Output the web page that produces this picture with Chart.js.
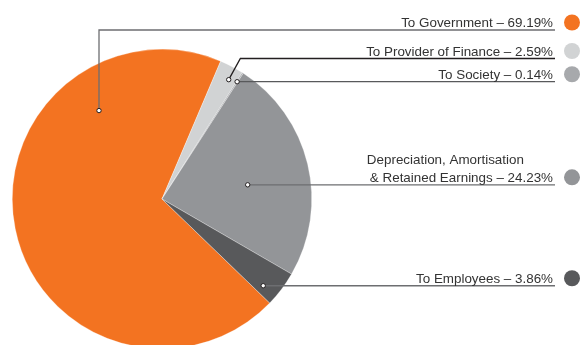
<!DOCTYPE html>
<html>
<head>
<meta charset="utf-8">
<script src="https://cdn.jsdelivr.net/npm/chart.js@4/dist/chart.umd.min.js"></script>
<style>
  html, body { margin:0; padding:0; background:#fff; overflow:hidden; width:581px; height:345px; }
  #wrap { position:relative; width:581px; height:400px; }
</style>
</head>
<body>
<div id="wrap"><canvas id="c" width="581" height="400" style="width:581px;height:400px"></canvas></div>
<script>
// ---- data ----
const categories = ['To Government', 'To Provider of Finance', 'To Society', 'Depreciation, Amortisation\n& Retained Earnings', 'To Employees'];
const shares = [69.19, 2.59, 0.14, 24.23, 3.86];
const sliceColors = ['#F37321', '#D1D3D4', '#A7A9AC', '#939598', '#58595B'];

// ---- leader layout (positions, not data) ----
const leaders = [
  { t: 0.765, f: 0.725, lineY: 30,   elbow: 'vertical', color: '#6D6E71' },
  { t: 0.66,  f: 0.913, lineY: 58.5, elbow: 'diag',     color: '#231F20' },
  { t: 0.5,   f: 0.93,  lineY: null, elbow: 'none',     color: '#58595B' },
  { t: 0.547, f: 0.58,  lineY: null, elbow: 'none',     color: '#6D6E71' },
  { t: 0.755, f: 0.89,  lineY: null, elbow: 'none',     color: '#6D6E71' }
];
const lineEndX = 555, textRightX = 553, markerX = 572;
const FONT = '13.4px "Liberation Sans", Arial, sans-serif';

const leaderPlugin = {
  id: 'leaders',
  afterDatasetsDraw(chart) {
    const ctx = chart.ctx;
    const arcs = chart.getDatasetMeta(0).data;
    ctx.save();
    arcs.forEach((arc, i) => {
      const L = leaders[i];
      const p = arc.getProps(['x','y','startAngle','endAngle','outerRadius'], true);
      const a = p.startAngle + L.t * (p.endAngle - p.startAngle);
      const r = L.f * p.outerRadius;
      const dx = p.x + Math.cos(a) * r, dy = p.y + Math.sin(a) * r;
      const lineY = L.lineY == null ? dy : L.lineY;
      ctx.beginPath();
      ctx.strokeStyle = L.color;
      ctx.lineWidth = 1.3;
      ctx.moveTo(dx, dy);
      if (L.elbow === 'vertical') ctx.lineTo(dx, lineY);
      else if (L.elbow === 'diag') ctx.lineTo(dx + (dy - lineY) * 0.55, lineY);
      ctx.lineTo(lineEndX, lineY);
      ctx.stroke();
      // dot
      ctx.beginPath();
      ctx.arc(dx, dy, 2.2, 0, Math.PI * 2);
      ctx.fillStyle = '#fff';
      ctx.fill();
      ctx.lineWidth = 1;
      ctx.strokeStyle = '#231F20';
      ctx.stroke();
      // text
      const lines = categories[i].split('\n');
      lines[lines.length - 1] += ' \u2013 ' + shares[i].toFixed(2) + '%';
      ctx.font = FONT;
      ctx.fillStyle = '#333333';
      ctx.textBaseline = 'alphabetic';
      const baseY = lineY - 3;
      const lastW = ctx.measureText(lines[lines.length - 1]).width;
      const startX = textRightX - lastW;
      for (let k = 0; k < lines.length; k++) {
        const y = baseY - (lines.length - 1 - k) * 17.5;
        if (k === lines.length - 1) { ctx.textAlign = 'right'; ctx.fillText(lines[k], textRightX, y); }
        else { ctx.textAlign = 'left'; ctx.fillText(lines[k], startX - 3, y); }
      }
      // marker
      ctx.beginPath();
      ctx.arc(markerX, baseY - 4.5, 8, 0, Math.PI * 2);
      ctx.fillStyle = sliceColors[i];
      ctx.fill();
    });
    ctx.restore();
  }
};

new Chart(document.getElementById('c'), {
  type: 'pie',
  data: {
    labels: categories,
    datasets: [{ data: shares, backgroundColor: sliceColors, borderColor: 'rgba(255,255,255,0.6)', borderWidth: 0.5 }]
  },
  options: {
    responsive: false,
    animation: false,
    rotation: 134,
    layout: { padding: { left: 12, right: 269, top: 49, bottom: 51 } },
    plugins: { legend: { display: false }, tooltip: { enabled: false } }
  },
  plugins: [leaderPlugin]
});
</script>
</body>
</html>
